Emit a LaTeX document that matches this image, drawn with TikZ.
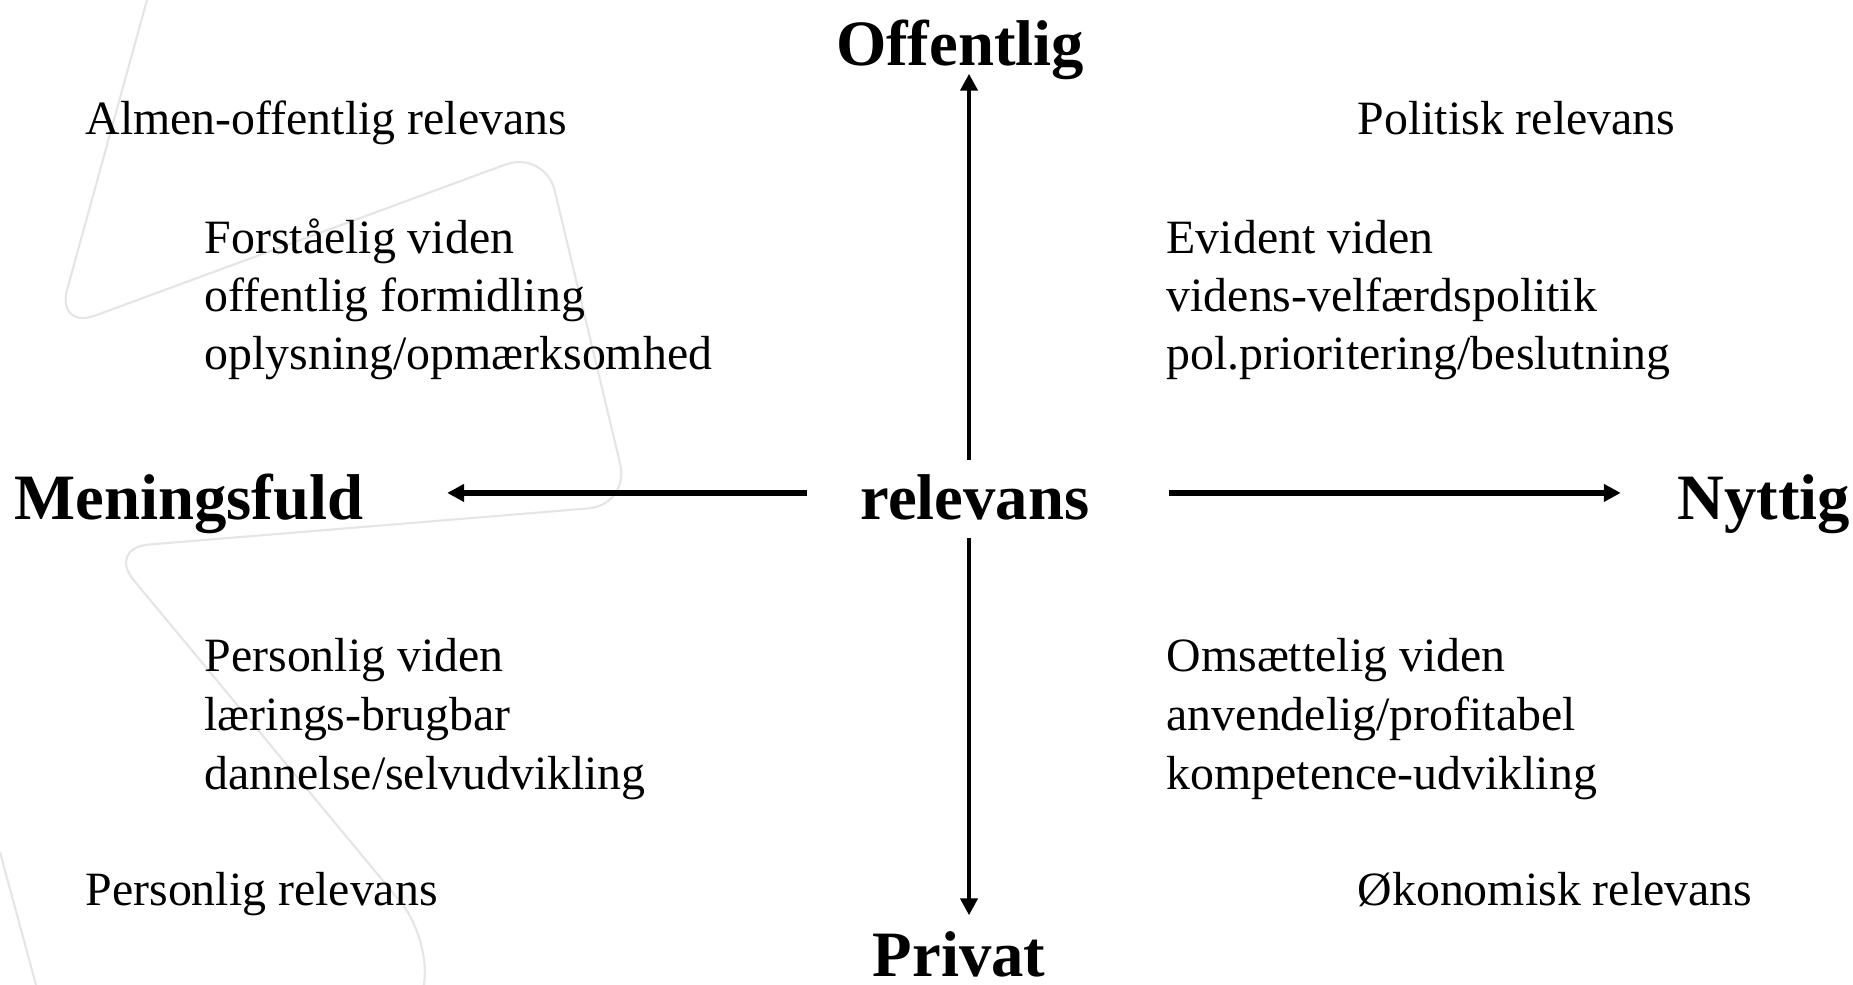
\documentclass[tikz,border=0pt]{standalone}
\usepackage{fontspec}
\setmainfont{Liberation Serif}
\usetikzlibrary{arrows.meta}
\tikzset{
  txt/.style={inner sep=0pt, anchor=base west, font=\fontsize{13.6}{16}\selectfont},
  pole/.style={inner sep=0pt, font=\fontsize{18.4}{22}\selectfont\bfseries},
  axis/.style={line width=1.2pt, -{Triangle[length=4.8pt,width=4.8pt]}},
  faint/.style={draw=black!10, line width=0.6pt, rounded corners=12pt}
}
\begin{document}
\begin{tikzpicture}[x=0.01cm,y=-0.01cm]
  \useasboundingbox (0,0) rectangle (1853,985);
  % faint logo in the background
  \draw[faint] (147,0) -- (56,330) -- (545,150) -- (630,505) -- (107,548)
    -- (428,935) -- (424,985);
  \draw[faint] (0,852) -- (36,985);
  % poles
  \node[pole, anchor=base, text height=19.4pt, text depth=4pt] (rel) at (975,520) {relevans};
  \node[pole, anchor=base west, text height=19.4pt, text depth=4pt] (men) at (14,520) {Meningsfuld};
  \node[pole, anchor=base west, text height=19.4pt, text depth=4pt] (nyt) at (1677,520) {Nyttig};
  \node[pole, anchor=base, text depth=0pt] (off) at (960,66) {Offentlig};
  \node[pole, anchor=base] (priv) at (959,976) {Privat};
  % axes
  \draw[axis, line width=1.6pt, shorten <=15pt, shorten >=23.6pt] (rel.west) -- (men.east);
  \draw[axis, line width=1.6pt, shorten <=22.5pt, shorten >=16pt] (rel.east) -- (nyt.west);
  \draw[axis, shorten <=-2.6pt, shorten >=2pt] ([xshift=-1.7pt]rel.north)
    -- ([xshift=-1.7pt]rel.north |- off.south);
  \draw[axis, shorten <=1pt, shorten >=4.3pt] ([xshift=-1.7pt]rel.south)
    -- ([xshift=-1.7pt]rel.south |- priv.north);
  % upper left
  \node[txt] (almen) at (85,135) {Almen-offentlig relevans};
  \node[txt] (forst) at (204,254) {Forståelig viden};
  \node[txt] (offf) at (204,312) {offentlig formidling};
  \node[txt] (oplys) at (204,370) {oplysning/opmærksomhed};
  % lower left
  \node[txt] (persv) at (204,672) {Personlig viden};
  \node[txt] (laer) at (204,731) {lærings-brugbar};
  \node[txt] (dann) at (204,789) {dannelse/selvudvikling};
  \node[txt] (persr) at (85,906) {Personlig relevans};
  % upper right
  \node[txt] (polr) at (1357,135) {Politisk relevans};
  \node[txt] (evid) at (1166,254) {Evident viden};
  \node[txt] (velf) at (1166,312) {videns-velfærdspolitik};
  \node[txt] (prio) at (1166,370) {pol.prioritering/beslutning};
  % lower right
  \node[txt] (oms) at (1166,672) {Omsættelig viden};
  \node[txt] (anv) at (1166,731) {anvendelig/profitabel};
  \node[txt] (komp) at (1166,789) {kompetence-udvikling};
  \node[txt] (okon) at (1357,906) {Økonomisk relevans};
\end{tikzpicture}
\end{document}
